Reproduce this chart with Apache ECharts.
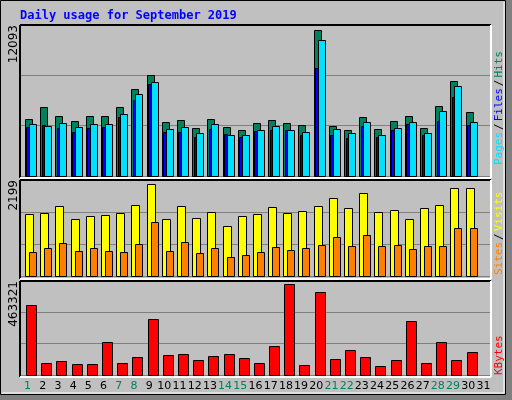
<!DOCTYPE html>
<html><head><meta charset="utf-8">
<script src="https://cdn.jsdelivr.net/npm/echarts@6/dist/echarts.min.js"></script>
<style>html,body{margin:0;padding:0;background:#c0c0c0}#c{width:512px;height:400px}</style>
</head><body><div id="c"></div>
<script>
const days = ['1','2','3','4','5','6','7','8','9','10','11','12','13','14','15','16','17','18','19','20','21','22','23','24','25','26','27','28','29','30','31'];
const weekend = ['1','7','8','14','15','21','22','28','29'];
const hits  = [4683,5675,4931,4518,4931,4931,5675,7163,8320,4436,4601,3940,4683,4022,3774,4353,4601,4353,4188,12093,4105,3774,4849,3857,4518,4931,3940,5758,7824,5262,0];
const files = [4270,4105,4353,4022,4270,4270,5097,6750,7742,3857,4022,3526,4270,3361,3361,3774,4105,3774,3609,11213,3857,3526,4436,3361,3940,4436,3526,5345,7411,4436,0];
const pages = [4022,4188,3940,3609,3940,4022,4849,6254,7576,3609,3609,3196,3857,3444,3196,3692,3774,3774,3361,8899,3361,3113,4105,3196,3774,4270,3361,4518,6502,4188,0];
const visits= [1480,1504,1672,1360,1432,1456,1504,1696,2199,1360,1672,1384,1528,1192,1432,1480,1648,1504,1552,1672,1864,1624,1984,1528,1576,1360,1624,1696,2104,2104,0];
const sites = [568,664,784,592,664,592,568,760,1288,592,808,544,664,448,496,568,688,616,664,736,928,712,976,712,736,640,712,712,1144,1144,0];
const kbytes= [356370,61092,71274,56001,56001,168003,61092,91638,285096,101820,106911,76365,96729,106911,86547,61092,147639,463321,50910,422553,81456,127275,91638,45819,76365,274914,61092,168003,76365,117093,0];
const yMaxLabels = ['12093','2199','463321'];

const L=20,R=21;
const grids=[{left:L,right:R,top:25,bottom:224},{left:L,right:R,top:180,bottom:124},{left:L,right:R,top:281,bottom:25}];
const maxes=[12482,2302,478595];
function rectSeries(name,data,gi,color,off,w,z){
  return {type:'custom',name,xAxisIndex:gi,yAxisIndex:gi,z,
    data:data.map((v,i)=>[i,v]),
    renderItem:(p,api)=>{
      const v=api.value(1); if(!v) return null;
      const band=api.size([1,0])[0];
      const top=api.coord([api.value(0),v]);
      const base=api.coord([api.value(0),0]);
      const x=top[0]-band/2+off*band/15.2;
      return {type:'rect',shape:{x:Math.round(x)+0.5,y:Math.round(top[1])+0.5,width:w,height:Math.round(base[1]-top[1])},
        style:{fill:color,stroke:'#000',lineWidth:1}};
    }};
}
const xAxes=grids.map((g,i)=>({gridIndex:i,type:'category',data:days,boundaryGap:true,
  axisLine:{show:false},axisTick:{show:false},
  axisLabel:{show:i===2,interval:0,margin:6,fontFamily:'DejaVu Sans',fontSize:11,
    color:(v)=>weekend.includes(v)?'#00805c':'#000'}}));
const yAxes=grids.map((g,i)=>({gridIndex:i,type:'value',min:0,max:maxes[i],interval:maxes[i]/3,
  axisLabel:{show:false},axisLine:{show:false},axisTick:{show:false},
  splitLine:{lineStyle:{color:'#808080',width:1}}}));

function frame(x1,y1,x2,y2){
  return [
    {type:'line',shape:{x1,y1,x2,y2:y1},style:{stroke:'#000',lineWidth:2},z:50},
    {type:'line',shape:{x1,y1,x2:x1,y2},style:{stroke:'#000',lineWidth:2},z:50},
    {type:'line',shape:{x1,y1:y2,x2,y2},style:{stroke:'#fff',lineWidth:2},z:50},
    {type:'line',shape:{x1:x2,y1,x2,y2},style:{stroke:'#fff',lineWidth:2},z:50}];
}
const mono='DejaVu Sans Mono';
function vlabel(x,yBottom,rich,text){
  return {type:'text',x,y:yBottom,rotation:Math.PI/2,z:60,
    style:{text,rich,font:'11px '+mono,align:'left',verticalAlign:'middle'}};
}
const graphics=[
  {type:'rect',shape:{x:506,y:0,width:6,height:400},style:{fill:'#808080'}},
  {type:'rect',shape:{x:0,y:395,width:512,height:5},style:{fill:'#808080'}},
  {type:'rect',shape:{x:0.5,y:0.5,width:505,height:394},style:{fill:'none',stroke:'#000',lineWidth:1},z:40},
  {type:'line',shape:{x1:504,y1:2,x2:504,y2:393},style:{stroke:'#fff',lineWidth:1}},
  {type:'line',shape:{x1:2,y1:393,x2:504,y2:393},style:{stroke:'#fff',lineWidth:1}},
  {type:'text',x:20,y:16,z:60,style:{text:'Daily usage for September 2019',font:'bold 12px '+mono,fill:'#0000ff',verticalAlign:'middle'}},
  ...frame(20,25,491,178),...frame(20,180,491,279),...frame(20,281,491,377),
  {type:'text',x:14,y:25,rotation:Math.PI/2,z:60,style:{text:yMaxLabels[0],font:'12px DejaVu Sans',fill:'#000',align:'right',verticalAlign:'middle'}},
  {type:'text',x:14,y:180,rotation:Math.PI/2,z:60,style:{text:yMaxLabels[1],font:'12px DejaVu Sans',fill:'#000',align:'right',verticalAlign:'middle'}},
  {type:'text',x:14,y:281,rotation:Math.PI/2,z:60,style:{text:yMaxLabels[2],font:'12px DejaVu Sans',fill:'#000',align:'right',verticalAlign:'middle'}},
  {type:'text',x:499,y:165,rotation:Math.PI/2,z:60,style:{text:'{p|Pages}{s|/}{f|Files}{s|/}{h|Hits}',font:'11px '+mono,align:'left',verticalAlign:'middle',
    rich:{p:{fill:'#00e0ff',font:'11px '+mono},s:{fill:'#000',font:'11px '+mono,padding:[0,2]},f:{fill:'#0000ff',font:'11px '+mono},h:{fill:'#00805c',font:'11px '+mono}}}},
  {type:'text',x:499,y:275,rotation:Math.PI/2,z:60,style:{text:'{a|Sites}{s|/}{b|Visits}',font:'11px '+mono,align:'left',verticalAlign:'middle',
    rich:{a:{fill:'#ff8000',font:'11px '+mono},s:{fill:'#000',font:'11px '+mono,padding:[0,2]},b:{fill:'#ffff00',font:'11px '+mono}}}},
  {type:'text',x:499,y:375,rotation:Math.PI/2,z:60,style:{text:'KBytes',font:'11px '+mono,fill:'#ff0000',align:'left',verticalAlign:'middle'}}
];
const chart=echarts.init(document.getElementById('c'),null,{renderer:'canvas'});
chart.setOption({animation:false,backgroundColor:'#c0c0c0',grid:grids,xAxis:xAxes,yAxis:yAxes,
  series:[
    rectSeries('Hits',hits,0,'#00805c',5,7,2),
    rectSeries('Pages',pages,0,'#0000ff',6.5,3,3),
    rectSeries('Files',files,0,'#00e0ff',9,7,4),
    rectSeries('Visits',visits,1,'#ffff00',5,8,2),
    rectSeries('Sites',sites,1,'#ff8000',9,7,3),
    rectSeries('KBytes',kbytes,2,'#ff0000',6,10,2)
  ],graphic:graphics});
</script></body></html>
